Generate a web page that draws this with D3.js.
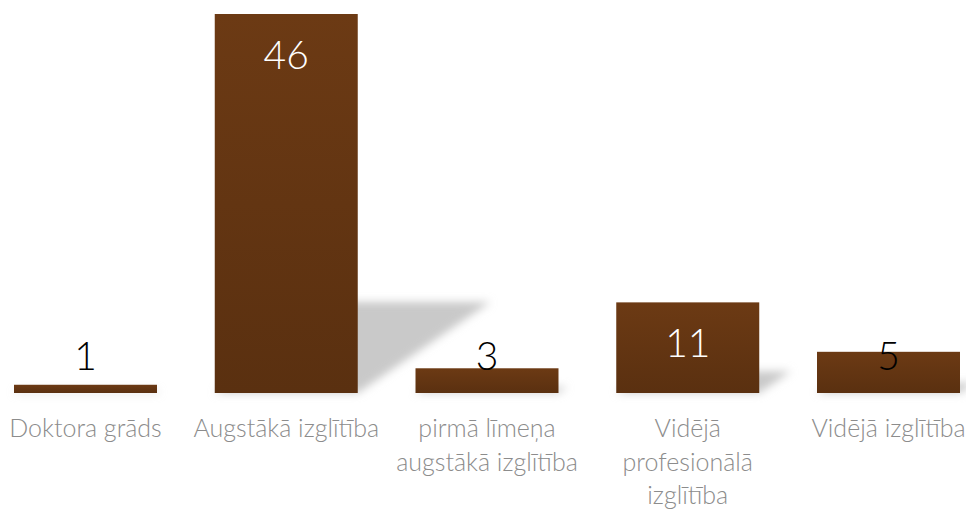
<!DOCTYPE html>
<html lang="lv">
<head>
<meta charset="UTF-8">
<title>Izglītība</title>
<script src="https://d3js.org/d3.v7.min.js"></script>
<style>
  html, body { margin: 0; padding: 0; background: #fff; }
  svg { display: block; font-family: Lato, "Open Sans", sans-serif; }
  .cat { fill: #8c8c8c; font-size: 25px; font-weight: 300; }
  .val { font-size: 39px; font-weight: 300; }
</style>
</head>
<body>
<svg id="chart" width="966" height="510"></svg>
<script>
// dati
const categories = ["Doktora grāds", "Augstākā izglītība", "pirmā līmeņa augstākā izglītība",
                    "Vidējā profesionālā izglītība", "Vidējā izglītība"];
const catLines = [["Doktora grāds"], ["Augstākā izglītība"], ["pirmā līmeņa", "augstākā izglītība"],
                  ["Vidējā", "profesionālā", "izglītība"], ["Vidējā izglītība"]];
const values = [1, 46, 3, 11, 5];

const svg = d3.select("#chart");

const x = d3.scaleBand().domain(categories).range([14, 960]).paddingInner(0.2877).paddingOuter(0);
const y = d3.scaleLinear().domain([0, 46]).range([393, 14]);

const defs = svg.append("defs");
const grad = defs.append("linearGradient").attr("id", "barGrad")
  .attr("x1", 0).attr("y1", 0).attr("x2", 0).attr("y2", 1);
grad.append("stop").attr("offset", "0%").attr("stop-color", "#6c3a14");
grad.append("stop").attr("offset", "100%").attr("stop-color", "#5a3010");

defs.append("filter").attr("id", "blur").attr("x", "-20%").attr("y", "-20%")
  .attr("width", "140%").attr("height", "140%")
  .append("feGaussianBlur").attr("stdDeviation", 4.5);

/* perspektīvas ēna aiz stabiņiem */
svg.append("g").attr("filter", "url(#blur)")
  .selectAll("path").data(values).join("path")
  .attr("fill", "#c9c9c9")
  .attr("d", (d, i) => {
    const x0 = x(categories[i]), x1 = x0 + x.bandwidth();
    const h = y(0) - y(d);
    const sh = h * 0.24, sk = h * 0.35;
    return `M${x0},${y(0)}L${x1},${y(0)}L${x1 + sk},${y(0) - sh}L${x0 + sk},${y(0) - sh}Z`;
  });

svg.append("g").selectAll("rect").data(values).join("rect")
  .attr("x", (d, i) => x(categories[i]))
  .attr("y", d => y(d))
  .attr("width", x.bandwidth())
  .attr("height", d => y(0) - y(d))
  .attr("fill", "url(#barGrad)");

// vērtību etiķetes
svg.append("g").selectAll("text").data(values).join("text")
  .attr("class", "val")
  .attr("text-anchor", "middle")
  .attr("x", (d, i) => x(categories[i]) + x.bandwidth() / 2)
  .attr("y", d => Math.min(y(d) + 55, y(0) - 23))
  .attr("fill", d => (y(0) - y(d) > 60 ? "#fff" : "#000"))
  .text(d => d);

// kategoriju nosaukumi
const cat = svg.append("g").selectAll("text").data(catLines).join("text")
  .attr("class", "cat")
  .attr("text-anchor", "middle")
  .attr("x", (d, i) => x(categories[i]) + x.bandwidth() / 2)
  .attr("y", 437);
cat.selectAll("tspan").data(d => d).join("tspan")
  .attr("x", function () { return d3.select(this.parentNode).attr("x"); })
  .attr("dy", (d, j) => (j === 0 ? 0 : 33.5))
  .text(d => d);
</script>
</body>
</html>
